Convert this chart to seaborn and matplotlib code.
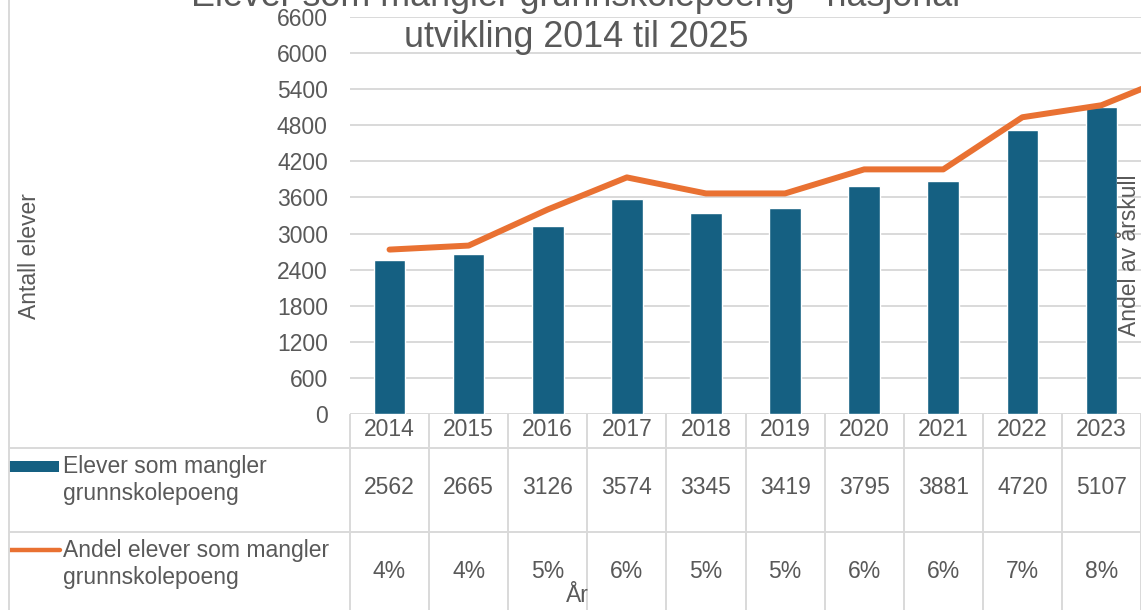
import numpy as np
import matplotlib
matplotlib.use("Agg")
import matplotlib.pyplot as plt
import seaborn as sns

# Data (lest av figuren)
years = [2014, 2015, 2016, 2017, 2018, 2019, 2020, 2021, 2022, 2023]
antall = [2562, 2665, 3126, 3574, 3345, 3419, 3795, 3881, 4720, 5107]
# andel i prosent, siste punkt (2024) er kuttet i bildet
andel_years = [2014, 2015, 2016, 2017, 2018, 2019, 2020, 2021, 2022, 2023, 2024]
andel = [4.0, 4.1, 5.0, 5.8, 5.4, 5.4, 6.0, 6.0, 7.3, 7.6, 8.4]
yticks = list(range(0, 6601, 600))

bar_color = "#156082"
line_color = "#E97132"
txt = "#595959"
grid = "#D9D9D9"

sns.set_theme(style="white")
plt.rcParams["font.family"] = ["Liberation Sans", "DejaVu Sans"]
plt.rcParams["text.color"] = txt

W, H = 1141, 610
fig = plt.figure(figsize=(W / 100, H / 100), dpi=100)

# hovedakse (søyler)
left, right, top, bottom = 350, 1141, 17, 414
ax = fig.add_axes([left / W, 1 - bottom / H, (right - left) / W, (bottom - top) / H])
sns.barplot(x=years, y=antall, color=bar_color, width=0.4, saturation=1, ax=ax)
ax.set_ylim(0, 6600)
ax.set_yticks(yticks)
ax.set_yticklabels([str(v) for v in yticks], fontsize=16.5, color=txt)
ax.tick_params(axis="y", length=0, pad=16)
ax.set_xticks([])
ax.set_xlabel("")
ax.yaxis.grid(True, color=grid, lw=1.4)
ax.set_axisbelow(True)
for s in ax.spines.values():
    s.set_visible(False)

# sekundærakse (linje)
ax2 = ax.twinx()
sns.lineplot(x=np.arange(len(andel_years)), y=andel, color=line_color, lw=4.3,
             solid_capstyle="round", ax=ax2)
ax2.set_ylim(-0.1, 9.8)
ax2.set_yticks([])
for s in ax2.spines.values():
    s.set_visible(False)
ax.set_xlim(-0.5, 9.5)

# datatabell under
cw = (right - left) / 10
tab = fig.add_axes([9 / W, 0, (W - 9) / W, (H - bottom) / H])
x0 = -0.5 - (left - 9) / cw
tab.set_xlim(x0, 9.5)
tab.set_ylim(H - bottom, 0)
tab.axis("off")

def px(x):
    return x0 + (x - 9) / cw

tab.hlines([34, 118], x0, 9.5, color=grid, lw=1.4)
tab.vlines(np.arange(len(years) + 1) - 0.5, 0, H - bottom, color=grid, lw=1.4)
for i, (y, a, p) in enumerate(zip(years, antall, andel)):
    tab.text(i, 16, str(y), ha="center", va="center", fontsize=16.5, color=txt)
    tab.text(i, 74, str(a), ha="center", va="center", fontsize=16.5, color=txt)
    tab.text(i, 158, f"{round(p)}%", ha="center", va="center", fontsize=16.5, color=txt)

tab.add_patch(plt.Rectangle((px(9), 47), px(59) - px(9), 11, color=bar_color, lw=0))
tab.plot([px(9), px(60)], [136, 136], color=line_color, lw=3.2, solid_capstyle="round")
tab.text(px(63), 66, "Elever som mangler\ngrunnskolepoeng", ha="left", va="center",
         fontsize=16.5, color=txt, linespacing=1.25)
tab.text(px(63), 150, "Andel elever som mangler\ngrunnskolepoeng", ha="left", va="center",
         fontsize=16.5, color=txt, linespacing=1.25)

# ramme til venstre
fig.add_artist(plt.Line2D([8.5 / W, 8.5 / W], [0, 1], color=grid, lw=1.4))

# titler og aksetitler
fig.text(576 / W, 1 - 6 / H, "Elever som mangler grunnskolepoeng - nasjonal",
         ha="center", va="baseline", fontsize=25.8, color=txt)
fig.text(576 / W, 1 - 47 / H, "utvikling 2014 til 2025",
         ha="center", va="baseline", fontsize=25.8, color=txt)
fig.text(29 / W, 1 - 256 / H, "Antall elever", rotation=90, ha="center", va="center",
         fontsize=16.5, color=txt)
fig.text(1129 / W, 1 - 255 / H, "Andel av årskull", rotation=90, ha="center", va="center",
         fontsize=16.5, color=txt)
fig.text(577 / W, 1 - 596 / H, "År", ha="center", va="center", fontsize=16.5, color=txt)

fig.savefig("out.png", dpi=100)
